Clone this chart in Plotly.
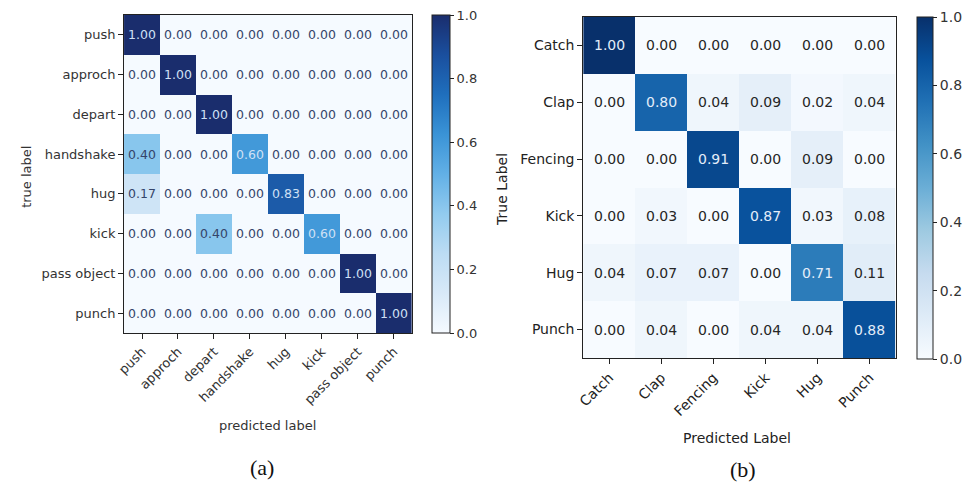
import plotly.graph_objects as go
import plotly.express as px

# ---- data -------------------------------------------------------------
labels_a = ["push", "approch", "depart", "handshake", "hug", "kick",
            "pass object", "punch"]
cm_a = [
    [1.00, 0.00, 0.00, 0.00, 0.00, 0.00, 0.00, 0.00],
    [0.00, 1.00, 0.00, 0.00, 0.00, 0.00, 0.00, 0.00],
    [0.00, 0.00, 1.00, 0.00, 0.00, 0.00, 0.00, 0.00],
    [0.40, 0.00, 0.00, 0.60, 0.00, 0.00, 0.00, 0.00],
    [0.17, 0.00, 0.00, 0.00, 0.83, 0.00, 0.00, 0.00],
    [0.00, 0.00, 0.40, 0.00, 0.00, 0.60, 0.00, 0.00],
    [0.00, 0.00, 0.00, 0.00, 0.00, 0.00, 1.00, 0.00],
    [0.00, 0.00, 0.00, 0.00, 0.00, 0.00, 0.00, 1.00],
]

labels_b = ["Catch", "Clap", "Fencing", "Kick", "Hug", "Punch"]
cm_b = [
    [1.00, 0.00, 0.00, 0.00, 0.00, 0.00],
    [0.00, 0.80, 0.04, 0.09, 0.02, 0.04],
    [0.00, 0.00, 0.91, 0.00, 0.09, 0.00],
    [0.00, 0.03, 0.00, 0.87, 0.03, 0.08],
    [0.04, 0.07, 0.07, 0.00, 0.71, 0.11],
    [0.00, 0.04, 0.00, 0.04, 0.04, 0.88],
]

colorbar_ticks = [0.0, 0.2, 0.4, 0.6, 0.8, 1.0]

# ---- styling ----------------------------------------------------------
W, H = 967, 482
FONT = "DejaVu Sans"
LINE = "#222222"

# a slightly more saturated variant of Blues for panel (a)
blues_vivid = [
    [0.000, "#f5faff"], [0.125, "#d8e9f8"], [0.250, "#bcdcf3"],
    [0.375, "#92cbef"], [0.500, "#62b0e6"], [0.625, "#3a93d6"],
    [0.750, "#1f6fbd"], [0.875, "#1a4f9e"], [1.000, "#1a2d6d"],
]
blues = px.colors.sequential.Blues


def px_x(v):
    return v / W


def px_y(v):
    return 1 - v / H


fig = go.Figure()


def add_matrix(cm, labels, xa, ya, scale, cb_left, cb_top, cb_bottom, cb_w,
               fsize, cell_size, dark_text, light_text):
    fig.add_trace(go.Heatmap(
        z=cm, x=labels, y=labels, xaxis=xa, yaxis=ya,
        zmin=0, zmax=1, colorscale=scale, hoverinfo="skip",
        colorbar=dict(
            x=px_x(cb_left), xanchor="left", xpad=0, ypad=0,
            y=px_y(cb_top), yanchor="top",
            len=(cb_bottom - cb_top) / H, lenmode="fraction",
            thickness=cb_w, thicknessmode="pixels",
            outlinewidth=1, outlinecolor=LINE,
            tickvals=colorbar_ticks, tickformat=".1f",
            ticks="outside", ticklen=4, tickcolor=LINE,
            tickfont=dict(family=FONT, size=fsize, color="#333333"),
        ),
    ))
    # cell value labels, light text on dark cells
    for i, row in enumerate(cm):
        for j, v in enumerate(row):
            fig.add_annotation(
                x=labels[j], y=labels[i], xref=xa, yref=ya,
                text=f"{v:.2f}", showarrow=False,
                font=dict(family=FONT, size=cell_size,
                          color=light_text if v > 0.5 else dark_text),
            )


add_matrix(cm_a, labels_a, "x", "y", blues_vivid, 428, 15, 333, 18, 13,
           12.5, "#34446a", "#cfe0f5")
add_matrix(cm_b, labels_b, "x2", "y2", blues, 917, 17, 359, 16, 14, 14,
           "#262626", "#e3edf9")

axis_common = dict(
    showline=True, mirror=True, linecolor=LINE, linewidth=1,
    ticks="outside", ticklen=5, tickcolor=LINE, showgrid=False,
    zeroline=False, fixedrange=True,
)

fig.update_layout(
    width=W, height=H,
    margin=dict(l=0, r=0, t=0, b=0),
    paper_bgcolor="white", plot_bgcolor="white",
    showlegend=False,
    xaxis=dict(domain=[px_x(117), px_x(407)], anchor="y", tickangle=-45,
               tickfont=dict(family=FONT, size=13, color="#333333"),
               **axis_common),
    yaxis=dict(domain=[px_y(333), px_y(15)], anchor="x",
               autorange="reversed",
               tickfont=dict(family=FONT, size=13, color="#333333"),
               **axis_common),
    xaxis2=dict(domain=[px_x(580), px_x(895)], anchor="y2", tickangle=-45,
                tickfont=dict(family=FONT, size=14, color="#222222"),
                **axis_common),
    yaxis2=dict(domain=[px_y(358), px_y(17)], anchor="x2",
                autorange="reversed",
                tickfont=dict(family=FONT, size=14, color="#222222"),
                **axis_common),
)

# axis titles and panel captions
titles = [
    ("true label", 18, 177, -90, FONT, 13, "#333333"),
    ("predicted label", 262, 425, 0, FONT, 13, "#333333"),
    ("True Label", 498, 189, -90, FONT, 14, "#222222"),
    ("Predicted Label", 735, 438, 0, FONT, 14, "#222222"),
    ("(a)", 256, 467, 0, "Liberation Serif", 22, "#111111"),
    ("(b)", 741, 469, 0, "Liberation Serif", 22, "#111111"),
]
for text, x, y, ang, fam, size, col in titles:
    fig.add_annotation(
        x=px_x(x), y=px_y(y), xref="paper", yref="paper",
        text=text, showarrow=False, textangle=ang,
        xanchor="center", yanchor="middle",
        font=dict(family=fam, size=size, color=col),
    )

fig.write_html("out.html")
